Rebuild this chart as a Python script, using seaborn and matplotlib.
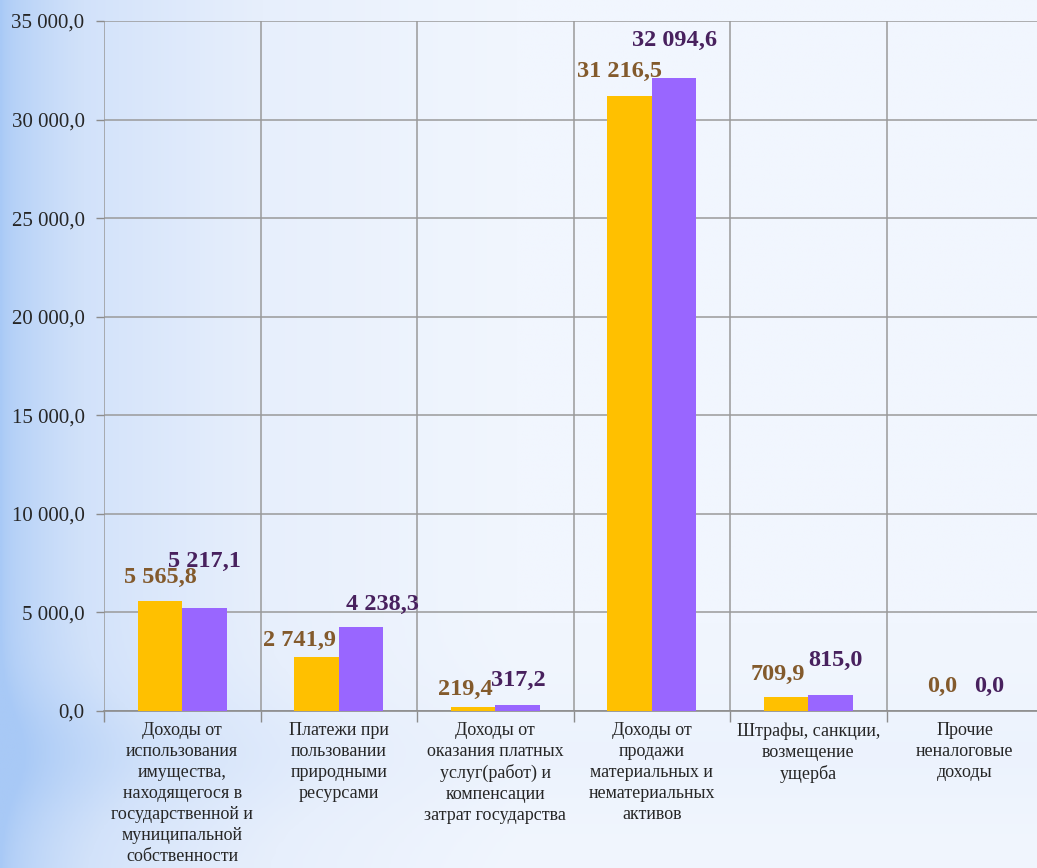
import numpy as np
import pandas as pd
import matplotlib.pyplot as plt
import matplotlib.ticker as mticker
from matplotlib.colors import LinearSegmentedColormap
import seaborn as sns

# Data
categories = [
    'Доходы от\nиспользования\nимущества,\nнаходящегося в\nгосударственной и\nмуниципальной\nсобственности',
    'Платежи при\nпользовании\nприродными\nресурсами',
    'Доходы от\nоказания платных\nуслуг(работ) и\nкомпенсации\nзатрат государства',
    'Доходы от\nпродажи\nматериальных и\nнематериальных\nактивов',
    'Штрафы, санкции,\nвозмещение\nущерба',
    'Прочие\nненалоговые\nдоходы',
]
series_names = ['Ряд 1', 'Ряд 2']
values_1 = [5565.8, 2741.9, 219.4, 31216.5, 709.9, 0.0]
values_2 = [5217.1, 4238.3, 317.2, 32094.6, 815.0, 0.0]

bar_colors = ['#FFC000', '#9966FF']
label_colors = ['#835A2C', '#48215E']

# label nudges in pixels (dx, dy above bar top)
offsets_1 = [(0, 24), (-17, 16), (-8, 17), (-10, 24), (-8, 23), (0, 25)]
offsets_2 = [(0, 47), (21, 23), (1, 24), (0, 38), (5, 34), (2, 25)]

df = pd.DataFrame({
    'category': categories * 2,
    'series': [series_names[0]] * len(categories) + [series_names[1]] * len(categories),
    'value': values_1 + values_2,
})

sns.set_style('white')
plt.rcParams['font.family'] = ['Liberation Serif', 'DejaVu Serif']

fig = plt.figure(figsize=(10.37, 8.68), dpi=100)

# soft blue background gradient
bg = fig.add_axes([0, 0, 1, 1], zorder=-10)
cmap = LinearSegmentedColormap.from_list('bg', ['#a8c9f6', '#d2e2fa', '#e7effc', '#f1f6fe'])
gx = np.linspace(0, 1, 400)
gy = np.linspace(0, 1, 200)
X, Y = np.meshgrid(gx, gy)
grad = np.clip(X / 0.5, 0, 1) ** 0.6
grad = grad - 0.15 * np.exp(-((Y - 0.13) ** 2) / 0.006)
bg.imshow(np.clip(grad, 0, 1), aspect='auto', cmap=cmap, extent=[0, 1, 0, 1], origin='lower')
bg.axis('off')

ax = fig.add_axes([104 / 1037, 1 - 711 / 868, (1043 - 104) / 1037, 690 / 868])
ax.set_facecolor('none')

sns.barplot(data=df, x='category', y='value', hue='series', palette=bar_colors,
            width=0.57, dodge=True, saturation=1, legend=False, ax=ax, zorder=3,
            linewidth=0, edgecolor='none')

ax.set_xlim(-0.5, len(categories) - 0.5)
ax.set_ylim(0, 35000)
ax.yaxis.set_major_locator(mticker.MultipleLocator(5000))
ax.yaxis.set_major_formatter(mticker.FuncFormatter(
    lambda v, p: f'{v:,.1f}'.replace(',', ' ').replace('.', ',')))

ax.set_xticks(np.arange(len(categories)))
ax.set_xticklabels(categories, fontsize=13, linespacing=1.3, va='top')
ax.xaxis.set_minor_locator(mticker.FixedLocator(np.arange(-0.5, len(categories), 1)))
ax.tick_params(axis='x', which='major', length=0, pad=8)
ax.tick_params(axis='x', which='minor', length=8, width=1, color='#8c8c8c', direction='out', bottom=True)
ax.tick_params(axis='y', length=6, width=1, color='#8c8c8c', labelsize=15, pad=8, left=True)

ax.grid(axis='y', which='major', color='#9a9a9a', lw=1.1, zorder=0)
ax.grid(axis='x', which='minor', color='#9a9a9a', lw=1.1, zorder=0)
ax.grid(axis='x', which='major', visible=False)
for s in ['top', 'right', 'left']:
    ax.spines[s].set_visible(False)
ax.spines['bottom'].set_color('#8c8c8c')
ax.spines['bottom'].set_linewidth(1.2)
ax.set_xlabel('')
ax.set_ylabel('')

# value labels
for container, vals, offs, col in zip(ax.containers, [values_1, values_2], [offsets_1, offsets_2], label_colors):
    for bar, v, (dx, dy) in zip(container, vals, offs):
        txt = f'{v:,.1f}'.replace(',', ' ').replace('.', ',')
        ax.annotate(txt, (bar.get_x() + bar.get_width() / 2, v),
                    xytext=(dx * 0.72, dy * 0.72), textcoords='offset points',
                    ha='center', va='center', fontsize=17.5, fontweight='bold',
                    color=col, zorder=5)

fig.savefig('out.png', dpi=100)
